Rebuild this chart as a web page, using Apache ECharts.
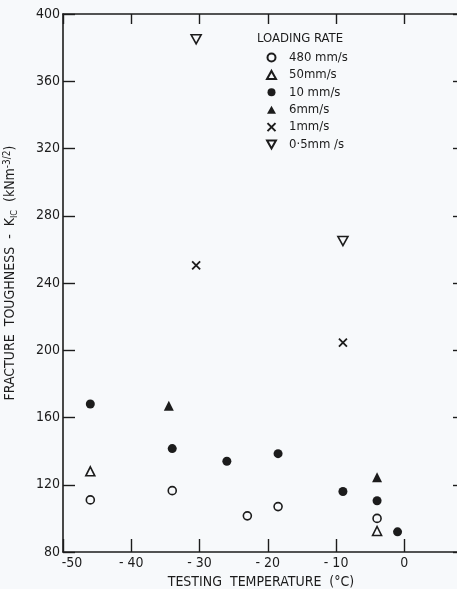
<!DOCTYPE html>
<html>
<head>
<meta charset="utf-8">
<script src="https://cdn.jsdelivr.net/npm/echarts@6/dist/echarts.min.js"></script>
<style>
  html, body { margin: 0; padding: 0; background: #f7f9fb; }
  #chart { width: 457px; height: 589px; }
</style>
</head>
<body>
<div id="chart"></div>
<script>
// [temperature °C, K_IC]
const rate480 = [[-46, 111], [-34, 116.5], [-23, 101.5], [-18.5, 107], [-4, 100]];
const rate50 = [[-46, 128], [-4, 92.5]];
const rate10 = [[-46, 168], [-34, 141.5], [-26, 134], [-18.5, 138.5], [-9, 116], [-4, 110.5], [-1, 92]];
const rate6 = [[-34.5, 167], [-4, 124.5]];
const rate1 = [[-30.5, 250.5], [-9, 204.5]];
const rate05 = [[-30.5, 385], [-9, 265]];
const seriesNames = ['480 mm/s', '50mm/s', '10 mm/s', '6mm/s', '1mm/s', '0·5mm /s'];

const ink = '#1c1c1c';
const bg = '#f7f9fb';
const font = "'DejaVu Sans Condensed', 'DejaVu Sans', sans-serif";

const openStyle = { color: bg, borderColor: ink, borderWidth: 1.6, opacity: 1 };
const fillStyle = { color: ink, borderColor: ink, borderWidth: 0, opacity: 1 };

const mk = (name, data, symbol, size, style) => ({
  name: name,
  type: 'scatter',
  data: data,
  symbol: symbol,
  symbolSize: size,
  itemStyle: style,
  emphasis: { disabled: true },
});

const chart = echarts.init(document.getElementById('chart'));
chart.setOption({
  backgroundColor: bg,
  animation: false,
  textStyle: { fontFamily: font, color: ink },
  title: {
    text: 'LOADING RATE',
    left: 257,
    top: 32,
    padding: 0,
    textStyle: { fontFamily: font, fontSize: 13, fontWeight: 'normal', color: ink },
  },
  legend: {
    orient: 'vertical',
    left: 265,
    top: 51,
    padding: 0,
    itemWidth: 9,
    itemHeight: 8,
    itemGap: 4.4,
    textStyle: { fontFamily: font, fontSize: 13, color: ink, padding: [0, 0, 0, 8] },
    data: seriesNames,
  },
  grid: { left: 63, right: -2, top: 14, bottom: 37, outerBoundsMode: 'none' },
  xAxis: [
    {
      type: 'value',
      min: -50,
      max: 8,
      interval: 10,
      name: 'TESTING  TEMPERATURE  (°C)',
      nameLocation: 'middle',
      nameGap: 22,
      nameTextStyle: { fontFamily: font, fontSize: 14, color: ink },
      axisLine: { onZero: false, lineStyle: { color: ink, width: 1.6 } },
      axisTick: { inside: true, length: 13, lineStyle: { color: ink, width: 1.4 } },
      axisLabel: {
        margin: 4,
        fontSize: 14,
        color: ink,
        showMaxLabel: false,
        formatter: (v) => (v === -50 ? '{m|-50}' : String(v).replace('-', '- ')),
        rich: { m: { fontSize: 14, fontFamily: font, color: ink, padding: [0, 0, 0, 18] } },
      },
      splitLine: { show: false },
    },
    {
      type: 'value',
      position: 'top',
      min: -50,
      max: 8,
      interval: 10,
      axisLine: { onZero: false, lineStyle: { color: ink, width: 1.6 } },
      axisTick: { inside: true, length: 10, lineStyle: { color: ink, width: 1.4 } },
      axisLabel: { show: false },
      splitLine: { show: false },
    },
  ],
  yAxis: [
    {
      type: 'value',
      min: 80,
      max: 400,
      interval: 40,
      name: 'FRACTURE  TOUGHNESS  -  K{sub|IC}  (kNm{sup|-3/2})',
      nameLocation: 'middle',
      nameGap: 44,
      nameTextStyle: {
        fontFamily: font,
        fontSize: 14,
        color: ink,
        padding: [0, 0, 0, 20],
        rich: {
          sub: { fontFamily: font, fontSize: 9, color: ink, verticalAlign: 'bottom', padding: [6, 0, 0, 0] },
          sup: { fontFamily: font, fontSize: 10, color: ink, verticalAlign: 'top', padding: [0, 0, 7, 0] },
        },
      },
      axisLine: { onZero: false, lineStyle: { color: ink, width: 1.6 } },
      axisTick: { inside: true, length: 12, lineStyle: { color: ink, width: 1.4 } },
      axisLabel: { margin: 3, fontSize: 14, color: ink },
      splitLine: { show: false },
    },
    {
      type: 'value',
      position: 'right',
      min: 80,
      max: 400,
      interval: 40,
      axisLine: { onZero: false, lineStyle: { color: ink, width: 1.6 } },
      axisTick: { inside: true, length: 6, lineStyle: { color: ink, width: 1.4 } },
      axisLabel: { show: false },
      splitLine: { show: false },
    },
  ],
  series: [
    mk(seriesNames[0], rate480, 'circle', 8, openStyle),
    mk(seriesNames[1], rate50, 'triangle', 9, openStyle),
    mk(seriesNames[2], rate10, 'circle', 9, fillStyle),
    mk(seriesNames[3], rate6, 'triangle', 10, fillStyle),
    mk(seriesNames[4], rate1, 'path://M0,0L10,10M10,0L0,10', 8, { color: 'none', borderColor: ink, borderWidth: 1.8, opacity: 1 }),
    mk(seriesNames[5], rate05, 'path://M0,0L10,0L5,9Z', [10, 9], openStyle),
  ],
});
</script>
</body>
</html>
